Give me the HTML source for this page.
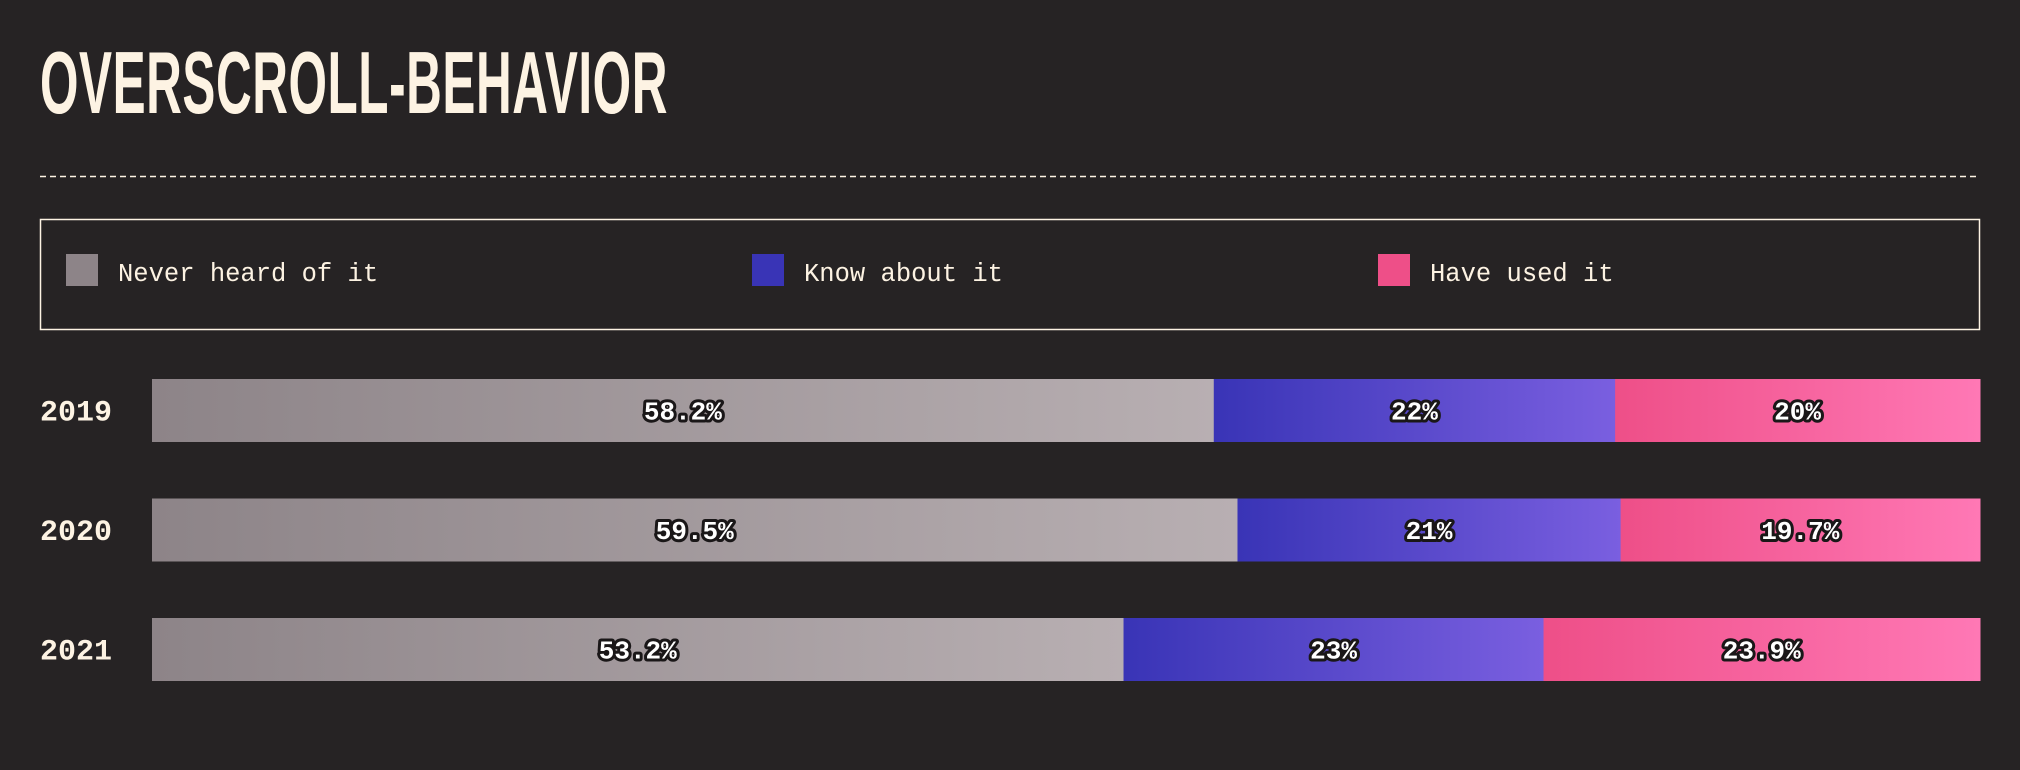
<!DOCTYPE html>
<html><head><meta charset="utf-8">
<style>
html,body{margin:0;padding:0;background:#262324;width:2020px;height:770px;overflow:hidden}
#title{position:absolute;left:40px;top:32px;font-family:"Liberation Sans",sans-serif;font-weight:bold;font-size:88px;color:#fdf3e3;transform:scaleX(0.562);transform-origin:0 0;white-space:nowrap;letter-spacing:1px}
</style></head><body>
<div id="title">OVERSCROLL-BEHAVIOR</div>
<svg id="chart" width="2020" height="770" style="position:absolute;left:0;top:0">
<defs>
<linearGradient id="g0" x1="0" x2="1"><stop offset="0" stop-color="#8d8488"/><stop offset="1" stop-color="#b8afb2"/></linearGradient>
<linearGradient id="g1" x1="0" x2="1"><stop offset="0" stop-color="#3934b6"/><stop offset="1" stop-color="#7a5fe0"/></linearGradient>
<linearGradient id="g2" x1="0" x2="1"><stop offset="0" stop-color="#ee4f88"/><stop offset="1" stop-color="#ff78b5"/></linearGradient>
</defs>
<line x1="40" x2="1980" y1="176.5" y2="176.5" stroke="#fdf3e3" stroke-width="1.5" stroke-dasharray="6,4"/>
<rect x="40.5" y="219.5" width="1939" height="110" fill="none" stroke="#fdf3e3" stroke-width="1.5"/>
<g id="legend"></g>
<g id="bars"></g>
</svg>
<script>
const categories = ["2019","2020","2021"];
const seriesNames = ["Never heard of it","Know about it","Have used it"];
const neverHeard = [58.2, 59.5, 53.2];
const knowAbout = [22, 21, 23];
const haveUsed = [20, 19.7, 23.9];
const labels = [["58.2%","22%","20%"],["59.5%","21%","19.7%"],["53.2%","23%","23.9%"]];

const NS="http://www.w3.org/2000/svg";
const legend=document.getElementById('legend');
const bars=document.getElementById('bars');
const x0=152, x1=1980, rowTop=379, rowStep=119.5, barH=63;
const xScale=(v,total)=>v/total*(x1-x0);
const fills=["url(#g0)","url(#g1)","url(#g2)"];
const swatch=["#8d8488","#3934b6","#ee4f88"];
const legX=[66,752,1378];
seriesNames.forEach((n,i)=>{
  const r=document.createElementNS(NS,'rect');
  r.setAttribute('x',legX[i]);r.setAttribute('y',254);r.setAttribute('width',32);r.setAttribute('height',32);r.setAttribute('fill',swatch[i]);
  
  
  legend.appendChild(r);
  const t=document.createElementNS(NS,'text');
  t.setAttribute('x',legX[i]+52);t.setAttribute('y',281);t.setAttribute('fill','#fdf3e3');
  t.setAttribute('font-family','"Liberation Mono",monospace');t.setAttribute('font-size','25.5');
  t.textContent=n;
  
  
  legend.appendChild(t);
});
categories.forEach((c,r)=>{
  const y=rowTop+r*rowStep;
  const yl=document.createElementNS(NS,'text');
  yl.setAttribute('x',40);yl.setAttribute('y',y+barH/2+10);yl.setAttribute('fill','#fdf3e3');
  yl.setAttribute('font-family','"Liberation Mono",monospace');yl.setAttribute('font-weight','bold');yl.setAttribute('font-size','30');
  yl.textContent=c;
  
  
  bars.appendChild(yl);
  const vals=[neverHeard[r],knowAbout[r],haveUsed[r]];
  const total=vals.reduce((a,b)=>a+b,0);
  let x=x0;
  vals.forEach((v,i)=>{
    const w=xScale(v,total);
    const rect=document.createElementNS(NS,'rect');
    rect.setAttribute('x',x);rect.setAttribute('y',y);rect.setAttribute('width',w+0.5);rect.setAttribute('height',barH);rect.setAttribute('fill',fills[i]);
    
    
    bars.appendChild(rect);
    const t=document.createElementNS(NS,'text');
    t.setAttribute('x',x+w/2);t.setAttribute('y',y+barH/2+9);t.setAttribute('text-anchor','middle');
    t.setAttribute('font-family','"Liberation Mono",monospace');t.setAttribute('font-weight','bold');t.setAttribute('font-size','26');
    t.setAttribute('fill','#ffffff');t.setAttribute('stroke','#1a1718');t.setAttribute('stroke-width','6');t.setAttribute('paint-order','stroke');t.setAttribute('stroke-linejoin','round');
    t.textContent=labels[r][i];
    
    
    bars.appendChild(t);
    x+=w;
  });
});
</script>
</body></html>
